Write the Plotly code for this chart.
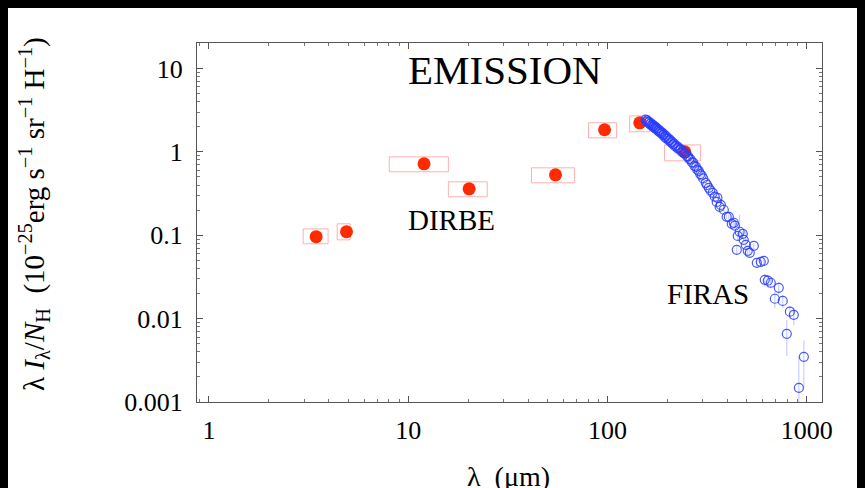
import plotly.graph_objects as go

# ---------------- DIRBE (red points with band boxes) ----------------
dirbe_lam = [3.45, 4.9, 12.0, 20.2, 54.8, 96.6, 145.0, 244.0]
dirbe_val = [0.096, 0.110, 0.718, 0.36, 0.53, 1.84, 2.23, 1.00]
dirbe_lam_lo = [2.97, 4.40, 8.03, 15.9, 41.5, 80.3, 129.0, 193.0]
dirbe_lam_hi = [3.96, 5.11, 15.9, 24.9, 68.2, 111.0, 163.0, 293.0]
dirbe_val_lo = [0.079, 0.088, 0.576, 0.289, 0.425, 1.47, 1.74, 0.78]
dirbe_val_hi = [0.119, 0.137, 0.871, 0.437, 0.643, 2.23, 2.70, 1.21]

# ---------------- FIRAS (blue open circles with error bars) ----------------
firas_lam = [155, 157, 158, 160, 162, 163, 165, 166, 168, 169, 171, 172, 174, 175,
             177, 179, 181, 182, 184, 186, 188, 190, 192, 194, 196, 198, 201, 203,
             206, 208, 211, 213, 216, 218, 221, 224, 227, 230, 233, 236, 240, 243,
             247, 250, 254, 257, 261, 265, 269, 273, 278, 282, 287, 292, 297, 302,
             311, 316, 322, 328, 337, 345, 353, 356, 365, 370, 383, 396, 406, 420,
             430, 435, 445, 450, 460, 477, 482, 494, 505, 517, 542, 561, 587, 608,
             615, 637, 659, 691, 723, 757, 793, 822, 860, 912, 966]
firas_val = [2.43, 2.30, 2.38, 2.25, 2.27, 2.15, 2.20, 2.07, 2.12, 2.00, 2.05, 1.94, 1.99, 1.88,
             1.91, 1.80, 1.84, 1.73, 1.76, 1.66, 1.70, 1.58, 1.62, 1.50, 1.55, 1.44, 1.46, 1.37,
             1.39, 1.30, 1.32, 1.24, 1.25, 1.17, 1.19, 1.11, 1.13, 1.06, 1.07, 1.00, 1.01, 0.95,
             0.96, 0.89, 0.88, 0.82, 0.81, 0.75, 0.74, 0.68, 0.66, 0.61, 0.59, 0.54, 0.52, 0.48,
             0.425, 0.40, 0.370, 0.345, 0.322, 0.29, 0.251, 0.281, 0.219, 0.231, 0.202, 0.166, 0.166, 0.137,
             0.141, 0.130, 0.0668, 0.098, 0.110, 0.104, 0.088, 0.0767, 0.065, 0.0615, 0.0746, 0.0467, 0.048, 0.0493,
             0.0292, 0.0285, 0.0269, 0.0173, 0.0234, 0.0163, 0.00657, 0.0121, 0.0111, 0.00148, 0.00348]
firas_err_up = [0.05] * 56 + [0.01, 0.01, 0.01, 0.01, 0.01, 0.01, 0.01, 0.01, 0.01, 0.01,
                              0.01, 0.01, 0.01, 0.01, 0.01, 0.01, 0.008,
                              0.01, 0.066, 0.008, 0.006, 0.035, 0.006, 0.006, 0.006, 0.005, 0.006, 0.005,
                              0.005, 0.005, 0.004, 0.004, 0.004, 0.003, 0.003, 0.002, 0.0026, 0.002, 0.002,
                              0.0005, 0.0018]
firas_err_dn = [0.05] * 56 + [0.01, 0.01, 0.01, 0.01, 0.01, 0.01, 0.01, 0.01, 0.01, 0.01,
                              0.01, 0.01, 0.01, 0.01, 0.01, 0.01, 0.008,
                              0.01, 0.023, 0.008, 0.006, 0.02, 0.006, 0.006, 0.006, 0.005, 0.006, 0.005,
                              0.005, 0.005, 0.004, 0.004, 0.004, 0.003, 0.003, 0.002, 0.0028, 0.002, 0.002,
                              0.0006, 0.0017]

x_tickvals = [1, 10, 100, 1000]
x_ticktext = ["1", "10", "100", "1000"]
y_tickvals = [0.001, 0.01, 0.1, 1, 10]
y_ticktext = ["0.001", "0.01", "0.1", "1", "10"]

SERIF = "Liberation Serif"

# box outlines built from the band limits
bx, by = [], []
for l0, l1, v0, v1 in zip(dirbe_lam_lo, dirbe_lam_hi, dirbe_val_lo, dirbe_val_hi):
    bx += [l0, l1, l1, l0, l0, None]
    by += [v0, v0, v1, v1, v0, None]

fig = go.Figure()
fig.add_trace(go.Scatter(x=bx, y=by, mode="lines",
                         line=dict(color="rgba(255,150,150,0.75)", width=1),
                         hoverinfo="skip", showlegend=False))
fig.add_trace(go.Scatter(x=dirbe_lam, y=dirbe_val, mode="markers",
                         marker=dict(color="#ff2a00", size=13, line=dict(width=0)),
                         showlegend=False))
fig.add_trace(go.Scatter(x=firas_lam, y=firas_val, mode="markers",
                         marker=dict(symbol="circle-open", color="rgba(40,60,255,0.85)", size=9,
                                     line=dict(width=1.2)),
                         error_y=dict(type="data", array=firas_err_up, arrayminus=firas_err_dn,
                                      color="rgba(140,150,255,0.55)", thickness=1, width=0),
                         showlegend=False))

axis_common = dict(
    showline=True, linecolor="#555555", linewidth=1, mirror="allticks",
    ticks="inside", ticklen=6, tickcolor="#555555", tickwidth=1,
    showgrid=False, zeroline=False,
    tickfont=dict(family=SERIF, size=26, color="black"),
    minor=dict(ticks="inside", ticklen=3, tickcolor="#777777", dtick="D1", showgrid=False),
)

fig.update_xaxes(type="log", range=[-0.06, 3.076], tickmode="array",
                 tickvals=x_tickvals, ticktext=x_ticktext, ticklabelstandoff=5, **axis_common)
fig.update_yaxes(type="log", range=[-3, 1.305], tickmode="array",
                 tickvals=y_tickvals, ticktext=y_ticktext, ticklabelstandoff=8, **axis_common)

# the page shows the figure offset by the 8px body margin
OFF = 8
pw, ph = 625.0, 359.0
L, T = 197 - OFF, 43 - OFF
R = 865 - L - int(pw)
B = 488 - T - int(ph)

def px(xref_pix):
    return (xref_pix - 197) / pw

def py(yref_pix):
    return (402 - yref_pix) / ph

ann = [
    dict(text="EMISSION", x=px(505), y=py(70), size=41),
    dict(text="DIRBE", x=px(451), y=py(220), size=29),
    dict(text="FIRAS", x=px(708), y=py(294), size=29),
    dict(text="λ  (μm)", x=px(508), y=py(476), size=28),
]
for a in ann:
    fig.add_annotation(text=a["text"], x=a["x"], y=a["y"], xref="paper", yref="paper",
                       showarrow=False, xanchor="center", yanchor="middle",
                       font=dict(family=SERIF, size=a["size"], color="black"))

fig.add_annotation(
    text="λ <i>I</i><sub>λ</sub>/<i>N</i><sub>H</sub>  (10<sup>−25</sup>erg s<sup>−1</sup> sr<sup>−1</sup> H<sup>−1</sup>)",
    x=px(34), y=py(214), xref="paper", yref="paper", textangle=-90,
    showarrow=False, xanchor="center", yanchor="middle",
    font=dict(family=SERIF, size=29, color="black"))

fig.update_layout(
    width=865, height=488, autosize=False,
    margin=dict(l=L, r=R, t=T, b=B, pad=0),
    paper_bgcolor="white", plot_bgcolor="white",
    showlegend=False,
)

# dark page background around the figure (visible in the body margin, as in the original)
fig.write_html("out.html", post_script="document.body.style.background='black';")
